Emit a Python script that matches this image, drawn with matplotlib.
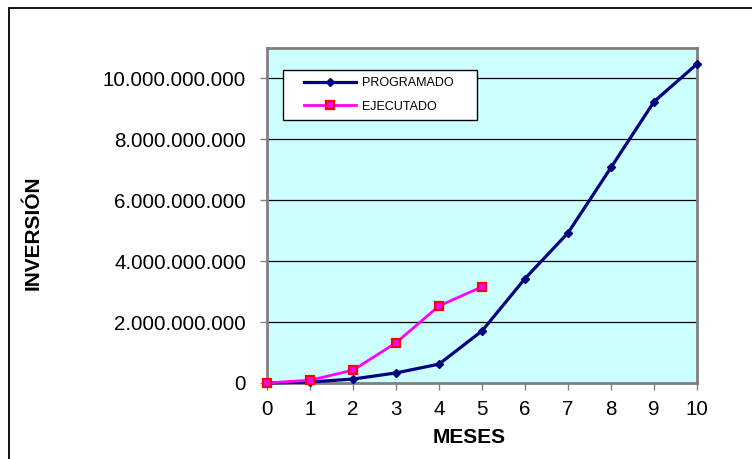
import matplotlib
matplotlib.use("Agg")
import matplotlib.pyplot as plt
from matplotlib.patches import Rectangle
from matplotlib.legend_handler import HandlerLine2D
from matplotlib.lines import Line2D
from matplotlib.ticker import FuncFormatter, MultipleLocator

plt.rcParams['font.family'] = ['Liberation Sans', 'DejaVu Sans']

# datos (inversión acumulada por mes)
meses = [0, 1, 2, 3, 4, 5, 6, 7, 8, 9, 10]
programado = [0, 0.03e9, 0.13e9, 0.33e9, 0.62e9, 1.71e9, 3.43e9,
              4.93e9, 7.08e9, 9.24e9, 10.48e9]
meses_ejec = [0, 1, 2, 3, 4, 5]
ejecutado = [0, 0.09e9, 0.42e9, 1.32e9, 2.53e9, 3.16e9]


class OffsetLineHandler(HandlerLine2D):
    """deja un margen a la izquierda de la muestra de la leyenda"""
    def create_artists(self, legend, orig_handle, xdescent, ydescent,
                       width, height, fontsize, trans):
        off = 1.15 * fontsize
        return super().create_artists(legend, orig_handle, xdescent - off,
                                      ydescent, width - off, height,
                                      fontsize, trans)


fig = plt.figure(figsize=(7.52, 4.59), dpi=100)
ax = fig.add_axes([0.355, 0.1656, 0.572, 0.7298])
ax.set_facecolor('#CCFFFF')

ax.plot(meses, programado, color='#000080', lw=2.3, marker='D',
        ms=4.5, mfc='#000080', mec='#000080', label='PROGRAMADO',
        clip_on=False, zorder=4)
ax.plot(meses_ejec, ejecutado, color='#FF00FF', lw=2.0, marker='s',
        ms=5.5, mfc='#FF00FF', mec='#FF0000', mew=1.6, label='EJECUTADO',
        clip_on=False, zorder=5)

ax.set_xlim(0, 10)
ax.set_ylim(0, 11e9)
ax.xaxis.set_major_locator(MultipleLocator(1))
ax.yaxis.set_major_locator(MultipleLocator(2e9))
ax.yaxis.set_major_formatter(
    FuncFormatter(lambda v, p: f"{int(round(v)):,}".replace(",", ".")))
ax.grid(axis='y', color='black', lw=0.9)
ax.set_axisbelow(True)

for s in ax.spines.values():
    s.set_color('#808080')
    s.set_linewidth(2)
ax.tick_params(axis='both', direction='out', length=5, width=1,
               color='#808080', labelsize=14.8)
ax.tick_params(axis='y', pad=10)
ax.tick_params(axis='x', pad=7)

ax.set_xlabel('MESES', fontsize=15, fontweight='bold')
ax.xaxis.set_label_coords(0.47, -0.163)
ax.xaxis.label.set_va('center')
ax.set_ylabel('INVERSIÓN', fontsize=15, fontweight='bold')
ax.yaxis.set_label_coords(-0.544, 0.448)
ax.yaxis.label.set_va('center')

leg = ax.legend(loc='upper left', bbox_to_anchor=(0.037, 0.0, 0.451, 0.934),
                mode='expand', borderaxespad=0, fontsize=9, handlelength=5.3,
                handletextpad=0.45, borderpad=0.55, labelspacing=0.95,
                fancybox=False, framealpha=1, edgecolor='black',
                handler_map={Line2D: OffsetLineHandler(numpoints=1)})
leg.get_frame().set_linewidth(1)

# borde exterior del gráfico
fig.patches.append(Rectangle((9 / 752, -0.2), 1.2, 1.2 - 7.5 / 459,
                             transform=fig.transFigure, fill=False,
                             edgecolor='black', lw=1.3, clip_on=False))

fig.savefig('out.png', dpi=100)
